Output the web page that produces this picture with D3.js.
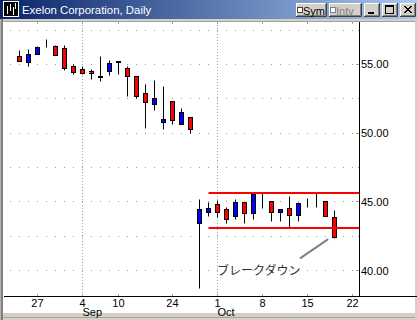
<!DOCTYPE html>
<html>
<head>
<meta charset="utf-8">
<script src="https://cdn.jsdelivr.net/npm/d3@7"></script>
<style>
body { margin: 0; background: #fff; }
svg { display: block; }
</style>
</head>
<body>
<div id="chart"></div>
<script>
// trading days shown on the axis (last two have no candle)
var days = ["Aug 23","Aug 24","Aug 27","Aug 28","Aug 29","Aug 30","Aug 31",
	"Sep 4","Sep 5","Sep 6","Sep 7","Sep 10","Sep 17","Sep 18","Sep 19","Sep 20","Sep 21",
	"Sep 24","Sep 25","Sep 26","Sep 27","Sep 28","Oct 1","Oct 2","Oct 3","Oct 4","Oct 5",
	"Oct 8","Oct 9","Oct 10","Oct 11","Oct 12","Oct 15","Oct 16","Oct 17","Oct 18","Oct 19","Oct 22"];

var openPx  = [55.61,55.20,55.78,56.47,56.34,56.17,54.86,54.65,54.50,54.18,54.55,55.22,54.72,54.14,52.92,52.10,50.84,52.34,50.65,51.16,
	43.45,44.29,44.85,44.47,44.00,44.97,44.17,45.02,45.07,44.25,44.54,44.03,45.02,45.09,45.09,43.93];
var highPx  = [56.05,56.10,56.32,56.85,56.41,56.41,55.01,54.91,54.65,55.61,55.32,55.22,54.87,54.14,53.58,53.87,53.43,52.34,51.81,51.16,
	45.19,45.02,45.14,44.61,45.19,44.97,45.58,45.63,45.07,44.47,45.43,44.97,45.27,45.63,45.09,44.41];
var lowPx   = [55.27,54.90,55.78,56.29,55.67,54.62,54.33,54.28,53.96,53.82,54.25,54.33,52.73,52.58,50.40,51.71,50.33,50.65,50.65,50.04,
	38.74,44.00,43.93,43.45,43.74,43.45,43.74,44.54,43.64,43.64,43.20,43.64,44.65,44.65,43.98,42.40];
var closePx = [55.27,55.74,56.25,56.47,55.67,54.76,54.47,54.36,54.36,54.12,55.11,55.18,54.14,52.73,52.29,52.56,51.03,50.94,51.52,50.33,
	44.47,44.54,44.29,43.74,44.97,44.17,45.58,45.02,44.25,44.47,44.03,44.90,45.02,45.09,43.98,42.47];

var dayTicks = ["Aug 27","Sep 4","Sep 10","Sep 24","Oct 1","Oct 8","Oct 15","Oct 22"];
var dayLabels = ["27","4","10","24","1","8","15","22"];
var monthStarts = ["Sep 4","Oct 1"];
var monthLabels = ["Sep","Oct"];

var priceTicks = [40, 42.5, 45, 47.5, 50, 52.5, 55, 57.5];
var priceLabels = [40, 45, 50, 55];

// range lines and the note
var rangeLevels = [45.67, 43.13];
var rangeFrom = "Sep 28";
var noteText = "ブレークダウン";
var notePointer = [[34.3, 42.3], [31.17, 40.9]];
var noteAnchor = [21.95, 39.69];

var W = 417, H = 320;
var plot = {left: 4, right: 359, top: 22, bottom: 296};

var svg = d3.select("#chart").append("svg").attr("width", W).attr("height", H)
	.style("font-family", "'Liberation Sans', Arial, sans-serif");

var x = d3.scaleLinear().domain([-1.722, 37.722]).range([plot.left, plot.right]);
var y = d3.scaleLinear().domain([38.16, 58.09]).range([plot.bottom, plot.top]);
function dayX(d) { return x(days.indexOf(d)); }

drawFrame();
drawTitleBar();
drawGrid();
drawCandles();
drawRange();
drawAxes();

function drawFrame() {
	svg.append("rect").attr("width", W).attr("height", H).attr("fill", "#fff");
	svg.append("rect").attr("x", 0).attr("y", 19).attr("width", W).attr("height", 3).attr("fill", "#d4d0c8");
	svg.append("line").attr("x1", 3).attr("x2", W).attr("y1", 21.5).attr("y2", 21.5).attr("stroke", "#a0a0a0");
	svg.append("rect").attr("x", 0).attr("y", 19).attr("width", 3).attr("height", H - 19).attr("fill", "#808080");
	svg.append("line").attr("x1", 0.5).attr("x2", 0.5).attr("y1", 19).attr("y2", H).attr("stroke", "#b8b4ac");
	svg.append("rect").attr("x", 3).attr("y", 313).attr("width", W - 3).attr("height", 7).attr("fill", "#d4d0c8");
	svg.append("line").attr("x1", 3).attr("x2", W).attr("y1", 317.5).attr("y2", 317.5).attr("stroke", "#a8a49c");
	svg.append("rect").attr("x", 415).attr("y", 19).attr("width", 2).attr("height", H - 19).attr("fill", "#d4d0c8");
}

function drawTitleBar() {
	var defs = svg.append("defs");
	var grad = defs.append("linearGradient").attr("id", "tb").attr("x1", 0).attr("x2", 1).attr("y1", 0).attr("y2", 0);
	grad.append("stop").attr("offset", 0).attr("stop-color", "#0a246a");
	grad.append("stop").attr("offset", 1).attr("stop-color", "#a6caf0");
	svg.append("rect").attr("width", W).attr("height", 19).attr("fill", "url(#tb)");

	// icon
	var ic = svg.append("g");
	ic.append("rect").attr("x", 3.5).attr("y", 1.5).attr("width", 15).attr("height", 15).attr("fill", "#000").attr("stroke", "#fff");
	[[7.5, 6, 14], [10.5, 4, 11], [13.5, 7, 15], [15.5, 3, 9]].forEach(function(v) {
		ic.append("line").attr("x1", v[0]).attr("x2", v[0]).attr("y1", v[1]).attr("y2", v[2]).attr("stroke", "#fff");
	});

	svg.append("text").attr("x", 22).attr("y", 14).attr("fill", "#fff")
		.style("font-size", "11.4px").text("Exelon Corporation, Daily");

	var buttons = [
		{x: 296, w: 31, label: "Sym", check: true, grey: false},
		{x: 329, w: 33, label: "Intv", check: true, grey: true},
		{x: 364, w: 16, label: "_", grey: false},
		{x: 382, w: 16, label: "max", grey: false},
		{x: 400, w: 16, label: "X", grey: false}
	];
	buttons.forEach(function(b) {
		var g = svg.append("g").attr("transform", "translate(" + b.x + ",3)");
		g.append("rect").attr("width", b.w).attr("height", 14).attr("fill", "#d4d0c8");
		g.append("path").attr("d", "M0.5,13.5V0.5H" + (b.w - 0.5)).attr("fill", "none").attr("stroke", "#fff");
		g.append("path").attr("d", "M0,13.5H" + (b.w - 0.5) + "V0").attr("fill", "none").attr("stroke", "#404040");
		g.append("path").attr("d", "M1,12.5H" + (b.w - 1.5) + "V1").attr("fill", "none").attr("stroke", "#808080");
		if (b.check) {
			g.append("rect").attr("x", 1.5).attr("y", 4.5).attr("width", 5).attr("height", 5)
				.attr("fill", "#fff").attr("stroke", b.grey ? "#808080" : "#404040");
			g.append("text").attr("x", 7).attr("y", 11.5).style("font-size", "11px")
				.attr("fill", b.grey ? "#808080" : "#000").text(b.label);
		} else if (b.label === "_") {
			g.append("rect").attr("x", 4).attr("y", 9).attr("width", 6).attr("height", 2).attr("fill", "#000");
		} else if (b.label === "max") {
			g.append("rect").attr("x", 3.5).attr("y", 2.5).attr("width", 8).attr("height", 8)
				.attr("fill", "none").attr("stroke", "#000");
			g.append("line").attr("x1", 3.5).attr("x2", 11.5).attr("y1", 3.5).attr("y2", 3.5).attr("stroke", "#000");
		} else {
			g.append("path").attr("d", "M4,3L11,10M11,3L4,10M5,3L12,10M12,3L5,10")
				.attr("stroke", "#000").attr("stroke-width", 1);
		}
	});
}

function drawGrid() {
	var grid = svg.append("g");
	// dotted price rows, one dot per trading day slot
	priceTicks.forEach(function(p) {
		d3.range(-1, 38).forEach(function(i) {
			grid.append("rect").attr("x", Math.floor(x(i))).attr("y", Math.floor(y(p)))
				.attr("width", 1).attr("height", 1).attr("fill", "#a0a0a0");
		});
	});
	monthStarts.forEach(function(m) {
		grid.append("line").attr("x1", dayX(m)).attr("x2", dayX(m))
			.attr("y1", plot.top).attr("y2", plot.bottom)
			.attr("stroke", "#a0a0a0").style("stroke-dasharray", "1,2");
	});
	dayTicks.forEach(function(d) {
		grid.append("line").attr("x1", dayX(d)).attr("x2", dayX(d)).attr("y1", plot.top).attr("y2", plot.top + 2).attr("stroke", "#a0a0a0");
		grid.append("line").attr("x1", dayX(d)).attr("x2", dayX(d)).attr("y1", plot.bottom - 2).attr("y2", plot.bottom).attr("stroke", "#a0a0a0");
	});
}

function drawCandles() {
	var g = svg.append("g");
	openPx.forEach(function(o, i) {
		var c = closePx[i];
		var cx = x(i);
		g.append("line").attr("x1", cx).attr("x2", cx)
			.attr("y1", Math.round(y(highPx[i])) + 0.5).attr("y2", Math.round(y(lowPx[i])) + 0.5)
			.attr("stroke", "#000");
		var top = Math.round(y(Math.max(o, c))) + 0.5;
		var bot = Math.round(y(Math.min(o, c))) + 0.5;
		g.append("rect").attr("x", cx - 2).attr("y", top).attr("width", 4).attr("height", Math.max(bot - top, 0))
			.attr("fill", c > o ? "#0000ff" : c < o ? "#ff0000" : "#000")
			.attr("stroke", "#000");
	});
}

function drawRange() {
	var g = svg.append("g");
	rangeLevels.forEach(function(v) {
		g.append("line").attr("x1", dayX(rangeFrom)).attr("x2", plot.right)
			.attr("y1", Math.round(y(v))).attr("y2", Math.round(y(v)))
			.attr("stroke", "#ff0000").attr("stroke-width", 2);
	});
	g.append("line")
		.attr("x1", x(notePointer[0][0])).attr("y1", y(notePointer[0][1]))
		.attr("x2", x(notePointer[1][0])).attr("y2", y(notePointer[1][1]))
		.attr("stroke", "#808080").attr("stroke-width", 2);
	g.append("text").attr("x", x(noteAnchor[0])).attr("y", y(noteAnchor[1]))
		.attr("fill", "#303030")
		.style("font-family", "'Noto Sans CJK JP', sans-serif").style("font-size", "12px")
		.text(noteText);
}

function drawAxes() {
	var g = svg.append("g");
	g.append("line").attr("x1", plot.left).attr("x2", W).attr("y1", plot.bottom + 0.5).attr("y2", plot.bottom + 0.5).attr("stroke", "#000");
	g.append("line").attr("x1", plot.right + 0.5).attr("x2", plot.right + 0.5).attr("y1", plot.top).attr("y2", plot.bottom).attr("stroke", "#000");

	priceTicks.forEach(function(p) {
		var major = priceLabels.indexOf(p) >= 0;
		g.append("line").attr("x1", plot.right - (major ? 3 : 1)).attr("x2", plot.right)
			.attr("y1", Math.floor(y(p)) + 0.5).attr("y2", Math.floor(y(p)) + 0.5).attr("stroke", "#a0a0a0");
	});
	priceLabels.forEach(function(p) {
		g.append("text").attr("x", plot.right + 2).attr("y", y(p) + 4)
			.style("font-size", "11px").attr("fill", "#000").text(d3.format(".2f")(p));
	});

	dayTicks.forEach(function(d, i) {
		g.append("text").attr("x", dayX(d)).attr("y", 306.5).attr("text-anchor", "middle")
			.style("font-size", "11px").attr("fill", "#000").text(dayLabels[i]);
	});
	monthStarts.forEach(function(m, i) {
		g.append("text").attr("x", dayX(m)).attr("y", 315.5)
			.style("font-size", "11px").attr("fill", "#000").text(monthLabels[i]);
	});
}
</script>
</body>
</html>
